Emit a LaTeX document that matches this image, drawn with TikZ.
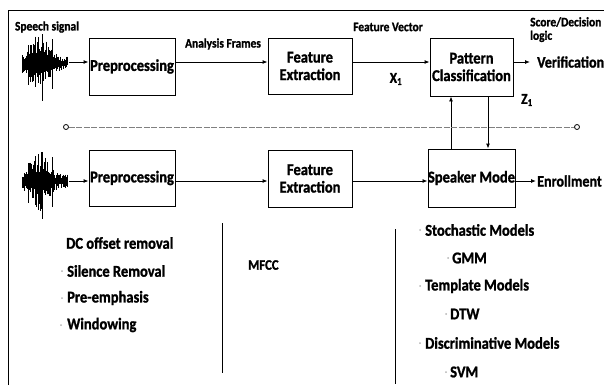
\documentclass[tikz,border=0pt]{standalone}
\usepackage{fontspec}
\setmainfont{Carlito}[BoldFeatures={FakeBold=1.2,FakeStretch=0.88}]
\usetikzlibrary{arrows.meta,calc}
\tikzset{
  box/.style={draw,line width=0.9pt,minimum width=84pt,minimum height=57pt,inner sep=0pt,align=center,font=\bfseries\fontsize{16.5}{17.5}\selectfont},
  lbl/.style={inner sep=0pt,font=\bfseries\fontsize{13}{13.5}\selectfont},
  txt/.style={inner sep=0pt,anchor=west,font=\bfseries\fontsize{16.5}{17.5}\selectfont},
  conn/.style={line width=0.9pt,-{Latex[length=5pt,width=4pt]}},
  plain/.style={line width=0.9pt},
  dotb/.style={fill=gray!60,draw=none},
}
\newcommand{\speechwave}[2]{%
  \foreach \i in {0,...,45}{
    \pgfmathsetmacro\xx{#1+\i}
    \pgfmathsetmacro\env{7+23*exp(-((\i-17)/12)^2)}
    \pgfmathsetmacro\up{\env*(0.3+0.7*rnd)}
    \pgfmathsetmacro\dn{\env*(0.3+0.7*rnd)}
    \draw[line width=0.9pt] (\xx,{#2-\up}) -- (\xx,{#2+\dn});
  }
  \draw[line width=0.6pt] (#1+20,#2-29) -- (#1+20,#2+38);
  \draw[line width=0.6pt] (#1+13,#2-25) -- (#1+13,#2+24);
  \draw[line width=0.6pt] (#1+30,#2-24) -- (#1+30,#2+26);
  \draw[line width=0.6pt] (#1+6,#2-18) -- (#1+6,#2+22);
}
\begin{document}
\begin{tikzpicture}[x=1pt,y=-1pt]
\useasboundingbox (0,0) rectangle (604,386);
\pgfmathsetseed{11}
% outer frame
\draw[line width=1pt] (8,385) -- (8,10) -- (604,10);
% waveforms
\speechwave{22}{63}
\speechwave{22}{181}
\coordinate (w1) at (69,62);
\coordinate (w2) at (69,181);
% labels
\node[lbl] (ss) at (47,27) {Speech signal};
\node[lbl] (af) at (223,44) {Analysis Frames};
\node[lbl] (fv) at (388,27) {Feature Vector};
\node[lbl,anchor=north west,align=left] (sd) at (530,17) {Score/Decision\\logic};
\node[lbl,font=\bfseries\fontsize{15}{16}\selectfont] (x1) at (396,79) {X\textsubscript{1}};
\node[lbl,font=\bfseries\fontsize{15}{16}\selectfont] (z1) at (527,100) {Z\textsubscript{1}};
% top row
\node[box,minimum width=86pt] (pre1) at (132,66.5) {Preprocessing};
\node[box,minimum width=84pt,minimum height=56pt] (fe1) at (310,66) {Feature\\Extraction};
\node[box,minimum width=83pt,minimum height=58pt] (pc) at (471.5,67) {Pattern\\Classification};
\node[txt,font=\bfseries\fontsize{16}{17}\selectfont] (ver) at (537,62) {Verification};
% bottom row
\node[box,minimum width=86pt,minimum height=56pt] (pre2) at (132,178) {Preprocessing};
\node[box,minimum width=84pt] (fe2) at (310,178.5) {Feature\\Extraction};
\node[box,minimum width=83pt,minimum height=58pt] (sm) at (471.5,178) {Speaker Mode};
\node[txt,font=\bfseries\fontsize{16}{17}\selectfont] (enr) at (537,181) {Enrollment};
% connectors top
\draw[conn] (w1) -- ([yshift=4.5pt]pre1.west);
\draw[conn] ([yshift=4.5pt]pre1.east) -- ([yshift=4pt]fe1.west);
\draw[conn] ([yshift=4pt]fe1.east) -- ([yshift=5pt]pc.west);
\draw[conn] ([yshift=5pt]pc.east) -- ([xshift=-7pt]ver.west);
% connectors bottom
\draw[conn] (w2) -- ([yshift=-3pt]pre2.west);
\draw[conn] ([yshift=-3pt]pre2.east) -- ([yshift=-2.5pt]fe2.west);
\draw[conn] ([yshift=-2.5pt]fe2.east) -- ([yshift=-3pt]sm.west);
\draw[conn] ([yshift=-3pt]sm.east) -- ([xshift=-1pt]enr.west);
% between pc and sm
\draw[conn] ([xshift=-20.5pt]sm.north) -- ([xshift=-20.5pt]pc.south);
\draw[conn] ([xshift=16.5pt]pc.south) -- ([xshift=16.5pt]sm.north);
% dotted separator
\node[draw,circle,line width=0.8pt,minimum size=5pt,inner sep=0pt] (c1) at (66,127) {};
\node[draw,circle,line width=0.8pt,minimum size=5pt,inner sep=0pt] (c2) at (577,127) {};
\draw[gray,line width=0.6pt,dash pattern=on 6pt off 1.5pt] (c1) -- (c2);
% bottom dividers
\draw[plain] (222,223) -- (222,373);
\draw[plain] (395,229) -- (395,384);
% left list
\node[txt] (dc) at (66,243) {DC offset removal};
\node[txt] (sr) at (67,271) {Silence Removal};
\node[txt] (pe) at (67,298) {Pre-emphasis};
\node[txt] (wi) at (67,325) {Windowing};
\fill[dotb] (62,271) circle (1pt);
\fill[dotb] (62,298) circle (1pt);
\fill[dotb] (61,325) circle (1pt);
% middle
\node[txt,font=\bfseries\fontsize{14.5}{15.5}\selectfont] (mf) at (248,265) {MFCC};
% right list
\node[txt] (st) at (425,230) {Stochastic Models};
\node[txt] (gm) at (452,258) {GMM};
\node[txt] (tm) at (425,286) {Template Models};
\node[txt] (dt) at (450,314) {DTW};
\node[txt] (dm) at (425,343) {Discriminative Models};
\node[txt] (sv) at (450,372) {SVM};
\fill[dotb] (420,230) circle (1pt);
\fill[dotb] (448,258) circle (1pt);
\fill[dotb] (420,286) circle (1pt);
\fill[dotb] (446,314) circle (1pt);
\fill[dotb] (420,343) circle (1pt);
\fill[dotb] (446,372) circle (1pt);
\end{tikzpicture}
\end{document}
